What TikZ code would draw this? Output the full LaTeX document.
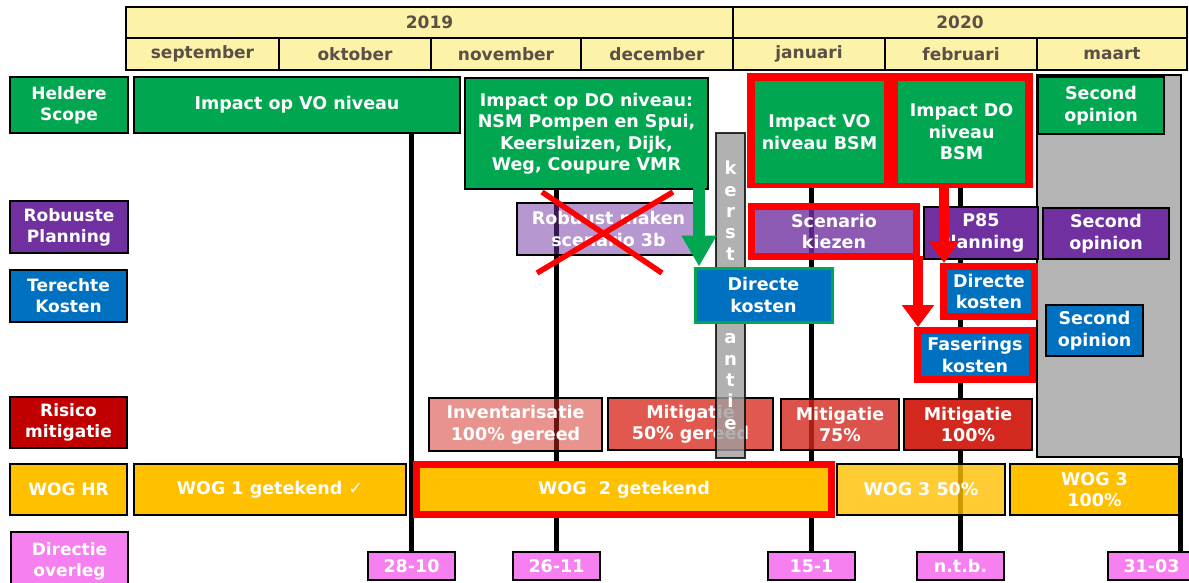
\documentclass[tikz,border=0pt]{standalone}
\usepackage{fontspec}
\setmainfont{DejaVu Sans}
\usetikzlibrary{arrows.meta,backgrounds}
\definecolor{cgreen}{RGB}{0,166,80}
\definecolor{cpurple}{RGB}{112,48,160}
\definecolor{cblue}{RGB}{0,112,192}
\definecolor{cdred}{RGB}{192,0,0}
\definecolor{cmred}{RGB}{210,40,30}
\definecolor{cmit}{RGB}{224,88,78}
\definecolor{cgold}{RGB}{255,192,0}
\definecolor{cpink}{RGB}{246,128,240}
\definecolor{chead}{RGB}{252,242,168}
\definecolor{cheadtxt}{RGB}{90,80,70}
\definecolor{cgray}{RGB}{180,180,180}
\definecolor{ckerst}{RGB}{158,158,158}
\definecolor{cred}{RGB}{255,0,0}
\tikzset{
  sz/.style 2 args={minimum width=#1pt, minimum height=#2pt},
  bx/.style={draw=black, line width=1.5pt, inner sep=0pt, align=center, text=white,
    font=\bfseries\fontsize{17.5}{21.5}\selectfont},
  hd/.style={bx, fill=chead, text=cheadtxt, font=\bfseries\fontsize{17}{20}\selectfont},
  lbl/.style={bx, font=\bfseries\fontsize{17}{21}\selectfont},
  frm/.style={bx, draw=cred, line width=7pt},
  dt/.style={bx, fill=cpink, sz={87}{28}},
  vline/.style={line width=5pt, black},
  redarrow/.style={line width=10pt, cred},
  kletters/.style={font=\bfseries\fontsize{18}{21.33}\selectfont, text=white, align=center, inner sep=0pt},
}
\begin{document}
\begin{tikzpicture}[x=1pt,y=-1pt]
\useasboundingbox (0,0) rectangle (1189,582);
\clip (0,0) rectangle (1189,582);

% header
\node[hd, sz={607}{31}] (y19) at (429.5,22.5) {2019};
\node[hd, sz={454}{31}] (y20) at (960,22.5) {2020};
\node[hd, sz={153}{32}] (m1) at (202.5,54) {september};
\node[hd, sz={152}{32}] (m2) at (355,54) {oktober};
\node[hd, sz={150}{32}] (m3) at (506,54) {november};
\node[hd, sz={152}{32}] (m4) at (657,54) {december};
\node[hd, sz={152}{32}] (m5) at (809,54) {januari};
\node[hd, sz={152}{32}] (m6) at (961,54) {februari};
\node[hd, sz={150}{32}] (m7) at (1112,54) {maart};

% row labels
\node[lbl, fill=cgreen, sz={118}{56}] (lscope) at (69,105) {Heldere\\Scope};
\node[lbl, fill=cpurple, sz={118}{52}] (lplan) at (69,227) {Robuuste\\Planning};
\node[lbl, fill=cblue, sz={117}{52}] (lkost) at (68.5,296) {Terechte\\Kosten};
\node[lbl, fill=cdred, sz={117}{51}] (lrisk) at (68.5,422.5) {Risico\\mitigatie};
\node[lbl, fill=cgold, sz={117}{51}] (lwog) at (68.5,489.5) {WOG HR};
\node[lbl, fill=cpink, sz={117}{58}] (ldir) at (69.5,561) {Directie\\overleg};

% gray second opinion column
\node[bx, fill=cgray, sz={144}{382}] (gb) at (1109,266) {};
\node[bx, fill=cgreen, sz={126}{57}] (so1) at (1101,105.5) {Second\\opinion};
\node[bx, fill=cpurple, sz={126}{51}] (so2) at (1106,233.5) {Second\\opinion};
\node[bx, fill=cblue, sz={97}{51}] (so3) at (1094.5,330.5) {Second\\opinion};

% row 1
\node[bx, fill=cgreen, sz={326}{56}] (ivo) at (297,105) {Impact op VO niveau};
\node[bx, fill=cgreen, sz={243}{111}] (ido) at (586.5,133.5)
  {Impact op DO niveau:\\NSM Pompen en Spui,\\Keersluizen, Dijk,\\Weg, Coupure VMR};
\node[fill=cred, inner sep=0pt, sz={286}{115}] (bsm) at (890,130.5) {};
\node[bx, draw=none, fill=cgreen, sz={129}{102}] (ivobsm) at (819.5,132) {Impact VO\\niveau BSM};
\node[bx, draw=none, fill=cgreen, sz={127}{102}] (idobsm) at (961.5,132) {Impact DO\\niveau\\BSM};

% row 2
\node[bx, fill=cpurple, fill opacity=0.5, text opacity=1, sz={183}{52}] (rob) at (608.5,229) {Robuust maken\\scenario 3b};
\node[frm, fill=cpurple, fill opacity=0.8, text opacity=1, sz={165}{50}] (scen) at (834,231.5) {Scenario\\kiezen};
\node[bx, fill=cpurple, sz={114}{52}] (p85) at (981,233) {P85\\Planning};

% row 4
\node[bx, fill=cmred, fill opacity=0.5, text opacity=1, sz={173}{53}] (inv) at (515.5,424.5) {Inventarisatie\\100\% gereed};
\node[bx, fill=cmit, sz={165}{52}] (mit50) at (690.5,424) {Mitigatie\\50\% gereed};
\node[bx, fill=cmred, fill opacity=0.8, text opacity=1, sz={118}{51}] (mit75) at (840,424.5) {Mitigatie\\75\%};
\node[bx, fill=cmred, sz={128}{51}] (mit100) at (968,424.5) {Mitigatie\\100\%};

% kerstvakantie bar (middle letters hidden behind the Directe kosten box)
\node[draw=black, line width=1.5pt, fill=ckerst, fill opacity=0.8, draw opacity=0.8, inner sep=0pt, sz={29}{325}] (kerst) at (730.5,295.5) {};
\node[kletters] (kl1) at (730.5,210.5) {k\\e\\r\\s\\t};
\node[kletters] (kl2) at (730.5,381.5) {a\\n\\t\\i\\e};

% row 3
\node[bx, draw=cgreen, line width=3pt, fill=cblue, sz={137}{54}] (dk1) at (763.5,295) {Directe\\kosten};
\node[frm, fill=cblue, sz={91}{50}] (dk2) at (989,291.5) {Directe\\kosten};
\node[frm, fill=cblue, sz={115}{49}] (fas) at (975,355) {Faserings\\kosten};

% row 5
\node[bx, fill=cgold, sz={272}{51}] (wog1) at (270,489.5) {WOG 1 getekend {\mdseries ✓}};
\node[frm, fill=cgold, sz={415}{50}] (wog2) at (624,489.5) {WOG~~2 getekend};
\node[bx, fill=cgold, fill opacity=0.8, text opacity=1, sz={168}{51}] (wog3a) at (921,489.5) {WOG 3 50\%};
\node[bx, fill=cgold, sz={169}{51}] (wog3b) at (1094.5,489.5) {WOG 3\\100\%};

% directie overleg dates
\node[dt] (d1) at (411.5,566) {28-10};
\node[dt] (d2) at (556.5,566) {26-11};
\node[dt] (d3) at (811.5,566) {15-1};
\node[dt] (d4) at (960.5,566) {n.t.b.};
\node[dt] (d5) at (1151.5,566) {31-03};

% timeline lines behind everything
\begin{scope}[on background layer]
  \fill[white] (0,0) rectangle (1189,582);
  \draw[vline] (d1.north |- ivo.south) -- (d1.north);
  \draw[vline] (d2.north |- ido.south) -- (d2.north);
  \draw[vline] (d3.north |- bsm.south) -- (d3.north);
  \draw[vline] (d4.north |- bsm.south) -- (d4.north);
\end{scope}
\draw[vline] ([xshift=-1pt]gb.south east) -- ([xshift=-1pt]gb.south east |- d5.north);

% cross over the cancelled scenario
\draw[cred, line width=5.5pt] (542,192) -- (662,273);
\draw[cred, line width=5.5pt] (673,192) -- (537,273);

% arrows
\coordinate (ga) at (699,188);
\draw[line width=12pt, cgreen, -{Triangle[width=33pt,length=31pt]}] (ga) -- (ga |- dk1.north);
\coordinate (ra) at (944,188);
\draw[redarrow, -{Triangle[width=29pt,length=22pt]}] (ra) -- (ra |- dk2.north);
\coordinate (rb) at (918,256);
\draw[redarrow, -{Triangle[width=31pt,length=22pt]}] (rb) -- (rb |- fas.north);
\end{tikzpicture}
\end{document}
